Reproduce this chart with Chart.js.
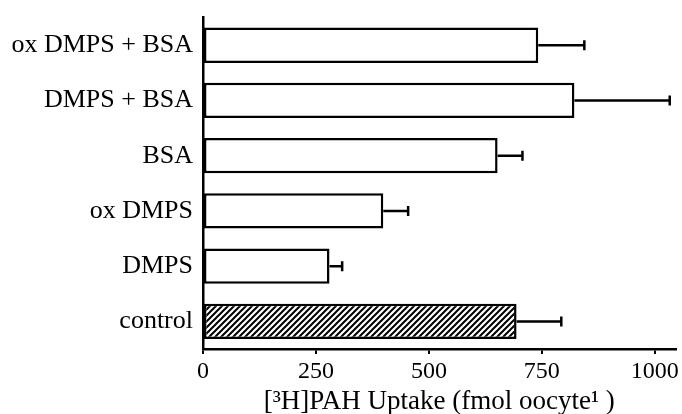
<!DOCTYPE html>
<html>
<head>
<meta charset="utf-8">
<script src="https://cdn.jsdelivr.net/npm/chart.js@4"></script>
<style>
  html, body { margin: 0; padding: 0; background: #fff; }
  #wrap { width: 682px; height: 414px; }
</style>
</head>
<body>
<div id="wrap"><canvas id="myChart"></canvas></div>
<script>
const categories = ['ox DMPS + BSA', 'DMPS + BSA', 'BSA', 'ox DMPS', 'DMPS', 'control'];
const uptake = [742, 822, 652, 399, 280, 694];
const uptakeErr = [102, 211, 55, 55, 28, 99];
const tickValues = [0, 250, 500, 750, 1000];

// diagonal hatch for the control bar
function hatch() {
  const p = 6;
  const c = document.createElement('canvas');
  c.width = p; c.height = p;
  const g = c.getContext('2d');
  g.fillStyle = '#fff';
  g.fillRect(0, 0, p, p);
  g.strokeStyle = '#000';
  g.lineWidth = 2;
  g.beginPath();
  g.moveTo(0, p); g.lineTo(p, 0);
  g.moveTo(-p / 2, p / 2); g.lineTo(p / 2, -p / 2);
  g.moveTo(p / 2, p * 1.5); g.lineTo(p * 1.5, p / 2);
  g.stroke();
  return g.createPattern(c, 'repeat');
}

const fills = categories.map(c => c === 'control' ? hatch() : '#ffffff');

const errorBars = {
  id: 'errorBars',
  afterDatasetsDraw(chart) {
    const ctx = chart.ctx;
    const xs = chart.scales.x;
    const meta = chart.getDatasetMeta(0);
    ctx.save();
    ctx.strokeStyle = '#000';
    ctx.lineWidth = 2.5;
    meta.data.forEach((bar, i) => {
      const x0 = xs.getPixelForValue(uptake[i]);
      const x1 = xs.getPixelForValue(uptake[i] + uptakeErr[i]);
      ctx.beginPath();
      ctx.moveTo(x0, bar.y);
      ctx.lineTo(x1, bar.y);
      ctx.moveTo(x1, bar.y - 5);
      ctx.lineTo(x1, bar.y + 5);
      ctx.stroke();
    });
    ctx.restore();
  }
};

const ctx = document.getElementById('myChart');

new Chart(ctx, {
  type: 'bar',
  data: {
    labels: categories,
    datasets: [{
      data: uptake,
      backgroundColor: fills,
      borderColor: '#000',
      borderWidth: 2.5,
      borderSkipped: false,
      categoryPercentage: 1,
      barPercentage: 0.64
    }]
  },
  options: {
    indexAxis: 'y',
    responsive: true,
    maintainAspectRatio: false,
    animation: false,
    layout: { padding: { top: 8, right: 4, left: 0, bottom: 0 } },
    plugins: {
      legend: { display: false },
      tooltip: { enabled: false }
    },
    scales: {
      x: {
        min: 0,
        max: 1046,
        afterBuildTicks: axis => { axis.ticks = tickValues.map(v => ({ value: v })); },
        afterFit: scale => { scale.height = 65; },
        border: { display: true, color: '#000', width: 2.5 },
        grid: { drawOnChartArea: false, drawTicks: true, tickLength: 5, color: '#000', lineWidth: 2 },
        ticks: {
          color: '#000',
          padding: 3,
          maxRotation: 0,
          callback: v => String(v),
          font: { family: 'Liberation Serif', size: 24 }
        },
        title: {
          display: true,
          text: '[³H]PAH Uptake (fmol oocyte¹ )',
          color: '#000',
          padding: { top: 0, bottom: -4 },
          font: { family: 'Liberation Serif', size: 27 }
        }
      },
      y: {
        afterFit: scale => { scale.width = 203; },
        border: { display: true, color: '#000', width: 2.5 },
        grid: { display: false },
        ticks: {
          color: '#000',
          padding: 2,
          font: { family: 'Liberation Serif', size: 26 }
        }
      }
    }
  },
  plugins: [errorBars]
});
</script>
</body>
</html>
